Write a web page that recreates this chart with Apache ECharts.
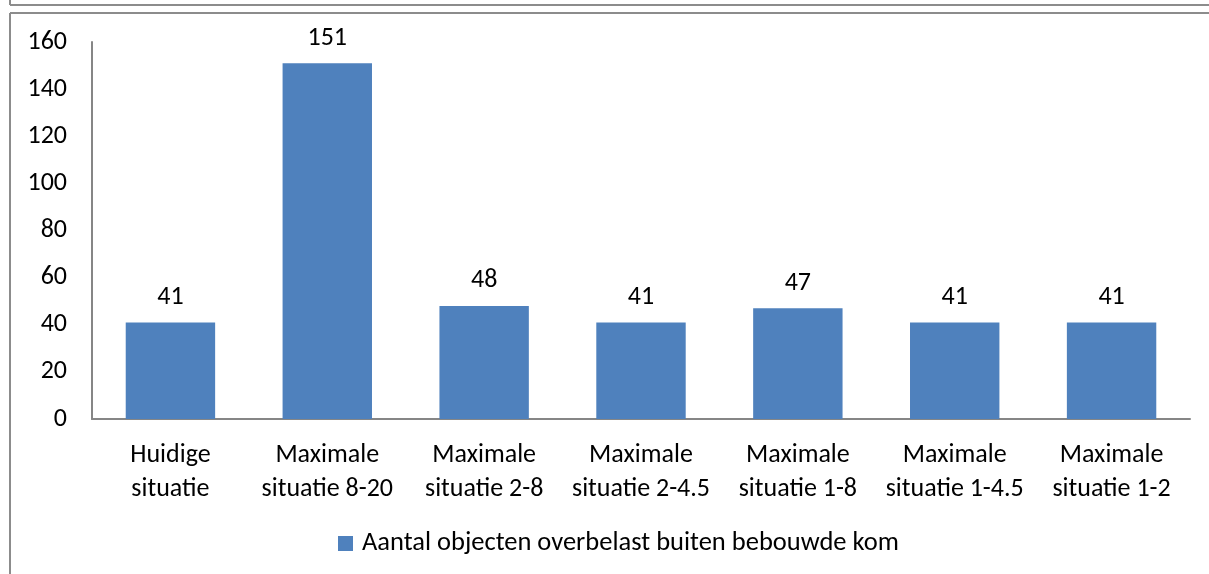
<!DOCTYPE html>
<html>
<head>
<meta charset="utf-8">
<script src="https://cdn.jsdelivr.net/npm/echarts@6/dist/echarts.min.js"></script>
<style>
  html, body { margin: 0; padding: 0; background: #fff; }
  #chart { width: 1209px; height: 574px; }
</style>
</head>
<body>
<div id="chart"></div>
<script>
const categories = [
  'Huidige\nsituatie',
  'Maximale\nsituatie 8-20',
  'Maximale\nsituatie 2-8',
  'Maximale\nsituatie 2-4.5',
  'Maximale\nsituatie 1-8',
  'Maximale\nsituatie 1-4.5',
  'Maximale\nsituatie 1-2'
];
const seriesName = 'Aantal objecten overbelast buiten bebouwde kom';
const values = [41, 151, 48, 41, 47, 41, 41];
const yTicks = [0, 20, 40, 60, 80, 100, 120, 140, 160];

const font = 'Carlito, Lato, "Open Sans", sans-serif';
const chart = echarts.init(document.getElementById('chart'));

chart.setOption({
  animation: false,
  textStyle: { fontFamily: font },
  graphic: [
    // frame lines of the surrounding box
    { type: 'line', shape: { x1: 10, y1: 0, x2: 10, y2: 5 }, style: { stroke: '#8c8c8c', lineWidth: 2 } },
    { type: 'line', shape: { x1: 10, y1: 5, x2: 1209, y2: 5 }, style: { stroke: '#8c8c8c', lineWidth: 2 } },
    { type: 'line', shape: { x1: 10, y1: 13, x2: 1209, y2: 13 }, style: { stroke: '#8c8c8c', lineWidth: 2 } },
    { type: 'line', shape: { x1: 10, y1: 13, x2: 10, y2: 574 }, style: { stroke: '#8c8c8c', lineWidth: 2 } }
  ],
  grid: { left: 92, right: 19, top: 42, bottom: 155 },
  legend: {
    data: [seriesName],
    bottom: 12,
    left: 333,
    icon: 'rect',
    itemWidth: 15,
    itemHeight: 15,
    itemGap: 8,
    textStyle: { fontSize: 26.5, color: '#000', fontFamily: font, padding: [0, 0, 0, 4] }
  },
  xAxis: {
    type: 'category',
    data: categories,
    axisLine: { lineStyle: { color: '#868686', width: 2 } },
    axisTick: { show: false },
    axisLabel: {
      color: '#000',
      fontSize: 26,
      lineHeight: 34,
      margin: 19,
      interval: 0,
      fontFamily: font
    }
  },
  yAxis: {
    type: 'value',
    min: yTicks[0],
    max: yTicks[yTicks.length - 1],
    interval: 20,
    axisLine: { show: true, lineStyle: { color: '#868686', width: 2 } },
    axisTick: { show: false },
    splitLine: { show: false },
    axisLabel: {
      color: '#000',
      fontSize: 26,
      margin: 25,
      fontFamily: font,
      formatter: v => String(v)
    }
  },
  series: [{
    name: seriesName,
    type: 'bar',
    data: values,
    barCategoryGap: '43%',
    itemStyle: { color: '#4F81BD' },
    label: {
      show: true,
      position: 'top',
      distance: 12,
      color: '#000',
      fontSize: 26,
      fontFamily: font
    }
  }]
});
</script>
</body>
</html>
